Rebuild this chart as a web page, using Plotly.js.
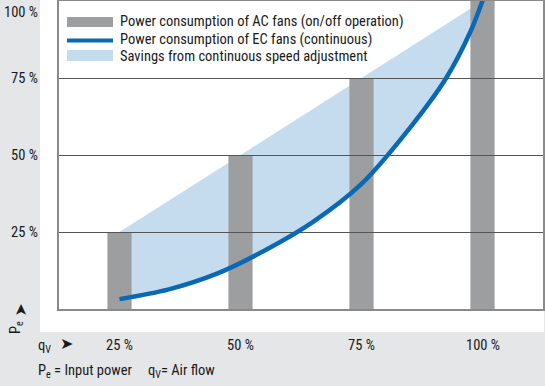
<!DOCTYPE html>
<html>
<head>
<meta charset="utf-8">
<script src="https://cdn.plot.ly/plotly-3.0.1.min.js"></script>
<style>html,body{margin:0;padding:0;background:#e4e6e8;}#chart{width:545px;height:386px;}</style>
</head>
<body>
<div id="chart"></div>
<script>
// ---- data ----
const flowTicks = [25, 50, 75, 100];
const flowLabels = ['25 %', '50 %', '75 %', '100 %'];
const powerTicks = [25, 50, 75, 100];
const powerLabels = ['25 %', '50 %', '75 %', '100 %'];
const acFlow = [25, 50, 75, 100];
const acPower = [25, 50, 75, 100];
const ecFlow = [25, 35, 45, 55, 65, 75, 85, 92.5, 97.5, 100.2];
const ecPower = [3.2, 6.3, 11.4, 19.0, 28.3, 40.6, 58.8, 75.0, 90.0, 100.9];
const legendLabels = [
  'Power consumption of AC fans (on/off operation)',
  'Power consumption of EC fans (continuous)',
  'Savings from continuous speed adjustment'
];

// ---- styles ----
const W = 545, H = 386;
const M = {l: 59, r: 2, t: 1, b: 77};
const PW = W - M.l - M.r, PH = H - M.t - M.b;
const px = v => (v - M.l) / PW;
const py = v => (H - M.b - v) / PH;
const FONT = 'Roboto Condensed, DejaVu Sans Condensed, sans-serif';
const TXT = '#1a1a1a';
const BAR = '#9d9ea0';
const BLUE = '#0a69b5';
const LIGHT = '#c5dcef';

// savings polygon: straight AC envelope then EC curve back
const savX = [acFlow[0], acFlow[acFlow.length - 1]].concat(ecFlow.slice().reverse());
const savY = [acPower[0], acPower[acPower.length - 1]].concat(ecPower.slice().reverse());

const traces = [
  {type: 'scatter', x: savX, y: savY, fill: 'toself', fillcolor: LIGHT,
   mode: 'lines', line: {width: 0, color: LIGHT, shape: 'linear'}, xaxis: 'x', yaxis: 'y', hoverinfo: 'skip'},
  {type: 'bar', x: acFlow, y: acPower, width: 5, marker: {color: BAR, line: {width: 0}},
   xaxis: 'x2', yaxis: 'y2', hoverinfo: 'skip'},
  {type: 'scatter', x: ecFlow, y: ecPower, mode: 'lines',
   line: {color: BLUE, width: 4.5, shape: 'spline', smoothing: 0.8},
   xaxis: 'x3', yaxis: 'y3', hoverinfo: 'skip'}
];

const xr = [12.5, 112.5], yr = [0, 100];
const hidden = {range: xr, showgrid: false, zeroline: false, showticklabels: false, ticks: '', showline: false, fixedrange: true};
const layout = {
  width: W, height: H,
  margin: M,
  paper_bgcolor: '#e4e6e8',
  plot_bgcolor: 'rgba(0,0,0,0)',
  showlegend: false,
  font: {family: FONT, size: 14, color: TXT},
  xaxis: Object.assign({}, hidden, {anchor: 'y'}),
  yaxis: Object.assign({}, hidden, {range: yr, anchor: 'x'}),
  xaxis2: Object.assign({}, hidden, {anchor: 'y2'}),
  yaxis2: Object.assign({}, hidden, {range: yr, anchor: 'x2'}),
  xaxis3: Object.assign({}, hidden, {anchor: 'y3', showline: true, mirror: true, linecolor: '#8a8a8a', linewidth: 2}),
  yaxis3: Object.assign({}, hidden, {range: yr, anchor: 'x3', showline: true, mirror: true, linecolor: '#8a8a8a', linewidth: 2,
    showgrid: true, gridcolor: '#555555', gridwidth: 1, tickmode: 'array', tickvals: powerTicks.slice(0, 3)}),
  shapes: [
    // white panel
    {type: 'rect', xref: 'paper', yref: 'paper', x0: px(40), x1: px(544), y0: py(332), y1: py(-2),
     fillcolor: '#ffffff', line: {width: 0}, layer: 'below'},
    // legend symbols
    {type: 'rect', xref: 'paper', yref: 'paper', x0: px(67), x1: px(113), y0: py(27), y1: py(17),
     fillcolor: BAR, line: {width: 0}},
    {type: 'line', xref: 'paper', yref: 'paper', x0: px(67), x1: px(113), y0: py(40.5), y1: py(40.5),
     line: {color: BLUE, width: 4}},
    {type: 'rect', xref: 'paper', yref: 'paper', x0: px(67), x1: px(113), y0: py(61), y1: py(50),
     fillcolor: LIGHT, line: {width: 0}}
  ],
  annotations: []
};

// legend texts
const legY = [21.5, 39.3, 57];
legendLabels.forEach((t, i) => layout.annotations.push({
  xref: 'paper', yref: 'paper', x: px(118), y: py(legY[i]), xanchor: 'left', yanchor: 'middle',
  text: t, showarrow: false, font: {family: FONT, size: 14.5, color: TXT}
}));
// y tick labels
powerTicks.forEach((v, i) => layout.annotations.push({
  xref: 'paper', yref: 'y', x: px(40), y: v, xanchor: 'right', yanchor: 'middle',
  yshift: v === 100 ? -11 : 0,
  text: powerLabels[i], showarrow: false, font: {family: FONT, size: 14.5, color: TXT}
}));
// x tick labels
flowTicks.forEach((v, i) => layout.annotations.push({
  xref: 'x', yref: 'paper', x: v, y: py(345), xanchor: 'center', yanchor: 'middle',
  text: flowLabels[i], showarrow: false, font: {family: FONT, size: 14.5, color: TXT}
}));
// axis names and arrows
const extra = [
  {x: 16, y: 328, text: 'P<sub>e</sub>', textangle: -90, xanchor: 'center'},
  {x: 19.5, y: 310, text: '➤', textangle: -90, xanchor: 'center', size: 16},
  {x: 36, y: 346, text: 'q<sub>V</sub>', xanchor: 'left'},
  {x: 66, y: 343, text: '➤', xanchor: 'center', size: 16},
  {x: 36, y: 371, text: 'P<sub>e</sub> = Input power', xanchor: 'left'},
  {x: 146, y: 371, text: 'q<sub>V</sub>= Air flow', xanchor: 'left'}
];
extra.forEach(a => layout.annotations.push({
  xref: 'paper', yref: 'paper', x: px(a.x), y: py(a.y), xanchor: a.xanchor, yanchor: 'middle',
  text: a.text, textangle: a.textangle || 0, showarrow: false,
  font: {family: a.text === '➤' ? 'DejaVu Sans, sans-serif' : FONT, size: a.size || 14.5, color: TXT}
}));

Plotly.newPlot('chart', traces, layout, {displayModeBar: false, staticPlot: true});
</script>
</body>
</html>
